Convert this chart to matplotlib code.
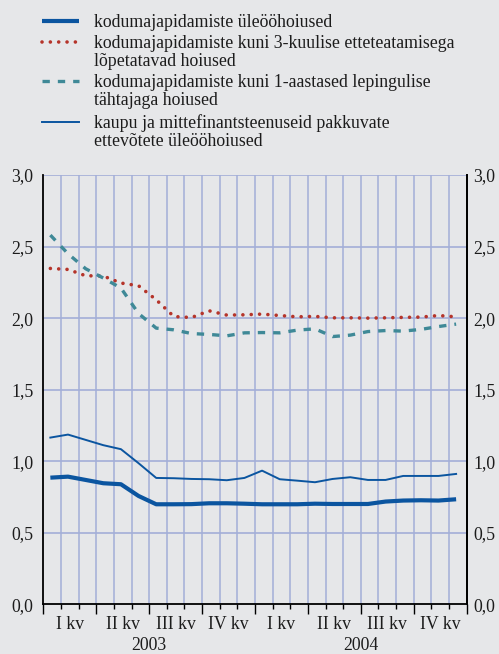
import numpy as np
import matplotlib
matplotlib.use("Agg")
import matplotlib.pyplot as plt
from matplotlib.lines import Line2D
from matplotlib.ticker import FixedLocator, FuncFormatter

plt.rcParams['font.family'] = ['Liberation Serif', 'DejaVu Serif']

# monthly rates, 2003-2004 (%)
uleoo_kodu = [0.885, 0.892, 0.869, 0.846, 0.839, 0.757, 0.699, 0.699, 0.700, 0.706,
              0.706, 0.703, 0.699, 0.699, 0.699, 0.703, 0.701, 0.701, 0.701, 0.718,
              0.725, 0.727, 0.725, 0.734]
kuni3k = [2.347, 2.340, 2.296, 2.294, 2.245, 2.226, 2.128, 2.011, 2.004, 2.051,
          2.021, 2.023, 2.028, 2.018, 2.009, 2.012, 2.002, 2.002, 2.000, 2.002,
          2.005, 2.007, 2.018, 2.009]
kuni1a = [2.580, 2.450, 2.345, 2.280, 2.210, 2.032, 1.930, 1.918, 1.892, 1.886,
          1.876, 1.897, 1.899, 1.897, 1.916, 1.925, 1.871, 1.881, 1.906, 1.913,
          1.909, 1.921, 1.941, 1.958]
uleoo_ettev = [1.165, 1.186, 1.149, 1.112, 1.084, 0.986, 0.883, 0.881, 0.876, 0.874,
               0.867, 0.883, 0.934, 0.874, 0.864, 0.853, 0.876, 0.888, 0.869, 0.869,
               0.897, 0.897, 0.897, 0.911]

quarters = ["I kv", "II kv", "III kv", "IV kv"]
years = ["2003", "2004"]
labels = ["kodumajapidamiste üleööhoiused",
          "kodumajapidamiste kuni 3-kuulise etteteatamisega\nlõpetatavad hoiused",
          "kodumajapidamiste kuni 1-aastased lepingulise\ntähtajaga hoiused",
          "kaupu ja mittefinantsteenuseid pakkuvate\nettevõtete üleööhoiused"]

bg = "#e6e7e9"
grid_c = "#a3aed8"
blue = "#0b55a0"
red = "#b5342a"
teal = "#3f8997"
txt = "#1c1c1c"
fs = 12.8

fig = plt.figure(figsize=(4.99, 6.54), dpi=100, facecolor=bg)
ax = fig.add_axes([43.3 / 499, 1 - 604.3 / 654, (466.7 - 43.3) / 499, (604.3 - 175) / 654])
ax.set_facecolor(bg)

n = len(uleoo_kodu)
x = np.arange(n) + 0.4

styles = [
    dict(color=blue, lw=3.0, solid_capstyle='butt'),
    dict(color=red, lw=2.6, linestyle=(0, (0.01, 2.3)), dash_capstyle='round'),
    dict(color=teal, lw=2.4, linestyle=(0, (2.2, 2.4)), dash_capstyle='butt'),
    dict(color=blue, lw=1.4),
]
series = [uleoo_kodu, kuni3k, kuni1a, uleoo_ettev]
for s, st in zip(series, styles):
    ax.plot(x, s, zorder=3, **st)

ax.set_xlim(0, n)
ax.set_ylim(0, 3)
yt = np.arange(0, 3.01, 0.5)
ax.set_yticks(yt)
fmt = FuncFormatter(lambda v, p: f"{v:.1f}".replace(".", ","))
ax.yaxis.set_major_formatter(fmt)
ax.tick_params(axis='y', length=0, pad=7, labelsize=fs, colors=txt)

ax.xaxis.set_major_locator(FixedLocator(np.arange(0, n + 1, 3)))
ax.xaxis.set_minor_locator(FixedLocator(np.arange(0, n + 1, 1)))
ax.set_xticklabels([])
ax.tick_params(axis='x', which='major', length=7, width=1.0, color='black')
ax.tick_params(axis='x', which='minor', length=3.5, width=1.0, color='black')

for v in yt[1:]:
    ax.axhline(v, color=grid_c, lw=1.2, zorder=1)
for m in range(1, n):
    ax.axvline(m, color=grid_c, lw=1.1, zorder=1)

ax.spines['top'].set_visible(False)
for k in ['left', 'right', 'bottom']:
    ax.spines[k].set_color('black')
    ax.spines[k].set_linewidth(1.3)

ax2 = ax.twinx()
ax2.set_ylim(0, 3)
ax2.set_yticks(yt)
ax2.yaxis.set_major_formatter(fmt)
ax2.tick_params(axis='y', length=0, pad=4.5, labelsize=fs, colors=txt)
for k in ['top', 'left', 'bottom']:
    ax2.spines[k].set_visible(False)
ax2.spines['right'].set_color('black')
ax2.spines['right'].set_linewidth(1.3)

tr = ax.get_xaxis_transform()
for yi, yr in enumerate(years):
    for qi, q in enumerate(quarters):
        ax.text(yi * 12 + qi * 3 + 1.5, -0.048, q, transform=tr, ha='center', va='center',
                fontsize=fs, color=txt)
    ax.text(yi * 12 + 6, -0.097, yr, transform=tr, ha='center', va='center',
            fontsize=fs, color=txt)

# legend, drawn by hand so the key sits on the first text line
line_y = [21, 42, 81, 122]
for lab, st, ly in zip(labels, styles, line_y):
    fig.add_artist(Line2D([42 / 499, 79 / 499], [1 - ly / 654, 1 - ly / 654],
                          transform=fig.transFigure, **st))
    for j, part in enumerate(lab.split("\n")):
        fig.text(94 / 499, 1 - (ly + 5.7 + j * 18.5) / 654, part, fontsize=fs,
                 va='baseline', ha='left', color=txt)

fig.savefig("out.png", dpi=100, facecolor=bg)
